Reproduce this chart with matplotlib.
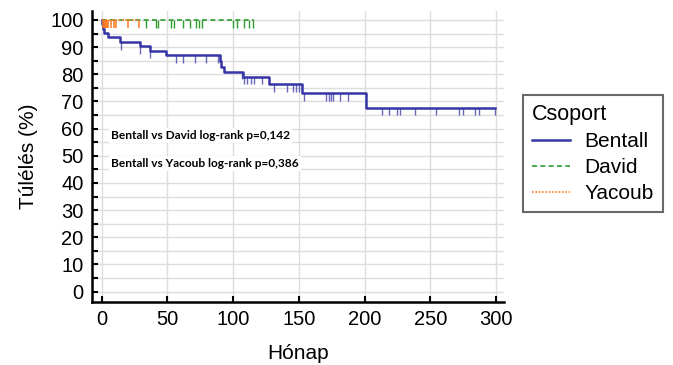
import matplotlib
matplotlib.use('Agg')
import matplotlib.pyplot as plt
from matplotlib.ticker import MultipleLocator

# Bentall survival curve (step after each time)
bentall_t = [0, 0.4, 1.0, 1.8, 4.8, 13.7, 28.9, 36.5, 49.2, 89.8, 91.0, 92.8, 107.5, 127.0, 152.7, 201.0, 299.5]
bentall_s = [100, 98.5, 96.8, 95.2, 93.6, 91.9, 90.3, 88.7, 87.0, 84.8, 82.8, 81.0, 79.1, 76.3, 73.0, 67.7, 67.7]
bentall_cens = [15, 29, 36.5, 56.8, 61.9, 70.8, 79.6, 88.5, 106.9, 108.1, 110.7, 113.2, 115.7, 121.6,
                131, 140.7, 145.8, 147.6, 150.1, 153.9, 170.5, 172.5, 174.3, 176.3, 181.4, 187,
                213.2, 218.3, 224.7, 227.2, 238.4, 254.4, 271.8, 274.8, 283.7, 287, 299.5]

# David - no events
david_t = [0, 116]
david_s = [100, 100]
david_cens = [34, 41, 43, 53, 55, 62, 67, 72, 74, 76, 100, 103, 108, 112, 115]

# Yacoub - no events
yacoub_t = [0, 28]
yacoub_s = [100, 100]
yacoub_cens = [0.8, 1.5, 2.2, 3.0, 3.8, 4.6, 7, 9, 11, 20, 28]

groups = ['Bentall', 'David', 'Yacoub']
pvals = ['Bentall vs David log-rank p=0,142', 'Bentall vs Yacoub log-rank p=0,386']

c_bentall = '#3535A5'
c_david = '#2E9E2E'
c_yacoub = '#FF7A21'


def surv_at(times, surv, t):
    s = surv[0]
    for ti, si in zip(times, surv):
        if ti <= t:
            s = si
    return s


plt.rcParams['font.family'] = ['Liberation Sans', 'DejaVu Sans']

fig = plt.figure(figsize=(6.73, 3.65), dpi=100)
ax = fig.add_axes([0.1363, 0.1734, 0.6126, 0.7973])

ax.step(bentall_t, bentall_s, where='post', color=c_bentall, lw=1.8, label=groups[0], zorder=4)
ax.step(david_t, david_s, where='post', color=c_david, lw=1.2, ls=(0, (3, 2)), label=groups[1], zorder=3)
ax.step(yacoub_t, yacoub_s, where='post', color=c_yacoub, lw=1.2, ls=(0, (1, 1)), label=groups[2], zorder=5)

# censor marks
tick_len = 2.8
for t in bentall_cens:
    s = surv_at(bentall_t, bentall_s, t)
    ax.vlines(t, s - tick_len, s, color=c_bentall, lw=1.0, alpha=0.75, zorder=4)
for t in david_cens:
    ax.vlines(t, 100 - tick_len, 100, color=c_david, lw=1.0, zorder=3)
for t in yacoub_cens:
    ax.vlines(t, 100 - tick_len, 100, color=c_yacoub, lw=1.1, zorder=5)

ax.set_xlim(-7.6, 306)
ax.set_ylim(-3.7, 103.4)
ax.xaxis.set_major_locator(MultipleLocator(50))
ax.yaxis.set_major_locator(MultipleLocator(10))
ax.yaxis.set_minor_locator(MultipleLocator(5))

ax.grid(True, which='major', axis='x', color='#DDDDDD', lw=1.0)
ax.grid(True, which='both', axis='y', color='#DDDDDD', lw=1.0)
ax.set_axisbelow(True)

for side in ['top', 'right']:
    ax.spines[side].set_visible(False)
for side in ['left', 'bottom']:
    ax.spines[side].set_linewidth(1.8)

ax.tick_params(axis='both', which='both', direction='in', length=4, width=1.5, labelsize=14.5, pad=6)

ax.set_xlabel('Hónap', fontsize=15, labelpad=11)
ax.set_ylabel('Túlélés (%)', fontsize=15, labelpad=9)

for txt, y in zip(pvals, [57.3, 47.3]):
    ax.text(7.1, y, txt, fontsize=8.6, fontweight='bold', family=['Lato', 'DejaVu Sans'],
            va='center', ha='left', zorder=6,
            bbox=dict(facecolor='white', edgecolor='none', pad=1.5))

leg = fig.legend(loc='upper left', bbox_to_anchor=(0.7767, 0.7397), title='Csoport',
                 fontsize=15, title_fontsize=15.5, frameon=True, fancybox=False,
                 handlelength=1.8, handletextpad=0.7, borderpad=0.45, labelspacing=0.33,
                 borderaxespad=0, alignment='left')
leg.get_frame().set_edgecolor('#444444')
leg.get_frame().set_linewidth(1.5)

fig.savefig('out.png', dpi=100)
